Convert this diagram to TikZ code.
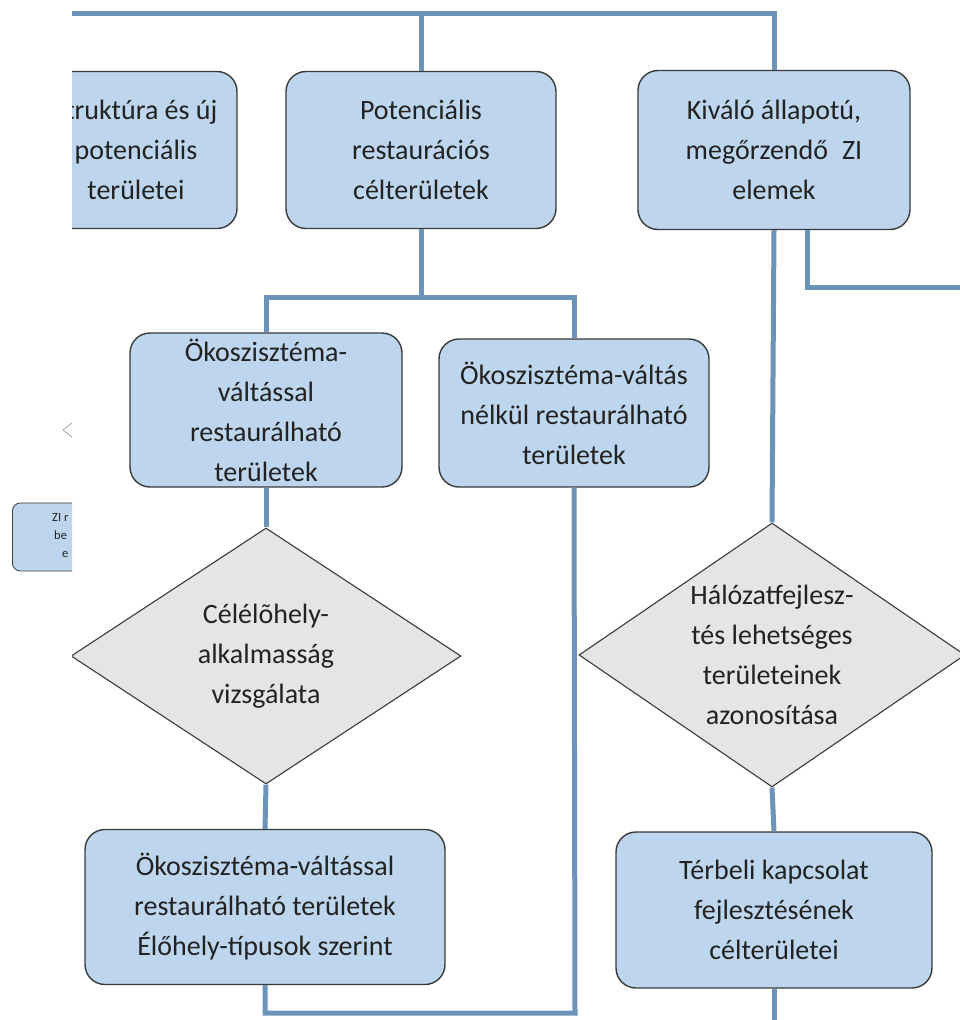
\documentclass[tikz,border=0pt]{standalone}
\usepackage{fontspec}
\setmainfont{Carlito}
\usetikzlibrary{shapes.geometric}
\definecolor{linkblue}{RGB}{108,147,186}
\definecolor{boxblue}{RGB}{189,214,237}
\definecolor{decgray}{RGB}{229,229,229}
\definecolor{edgegray}{RGB}{58,58,58}
\definecolor{inkgray}{RGB}{34,34,34}
\newcommand{\boxfont}{\fontsize{28}{40}\selectfont}
\newcommand{\tinyfont}{\fontsize{12.5}{18}\selectfont}

\begin{document}
\begin{tikzpicture}[x=1pt, y=-1pt,
        link/.style = {line width=5pt, draw=linkblue},
        box/.style = {draw=edgegray, line width=1.4pt, fill=boxblue, rounded corners=20pt,
            minimum width=270pt, minimum height=157pt, align=center, font=\boxfont, text=inkgray, inner sep=2pt},
        decision/.style = {diamond, draw=edgegray, line width=1.1pt, fill=decgray,
            minimum width=390pt, minimum height=256pt, inner sep=0pt},
        dtext/.style = {align=center, font=\boxfont, text=inkgray}]
        \useasboundingbox (0,0) rectangle (960,1020);
        \fill[white] (0,0) rectangle (960,1020);
        \begin{scope}
            \clip (72,0) rectangle (960,1020);
            \node[box, minimum width=202pt] (infra) at (136,150) {struktúra és új\\potenciális\\területei};
            \node[box] (poten) at (421,150) {Potenciális\\restaurációs\\célterületek};
            \node[box, minimum width=272pt, minimum height=159pt] (kival) at (774,150) {Kiváló állapotú,\\megőrzendő\enspace ZI\\elemek};
            \node[box, minimum width=272pt, minimum height=154pt] (ecoA) at (266,410) {Ökoszisztéma-\\váltással\\restaurálható\\területek};
            \node[box, minimum height=148pt] (ecoB) at (574,413) {Ökoszisztéma-váltás\\nélkül restaurálható\\területek};
            \node[decision, label={[dtext]center:Célélõhely-\\alkalmasság\\vizsgálata}] (check) at (266,656) {};
            \node[decision, minimum width=386pt, minimum height=264pt, label={[dtext]center:Hálózatfejlesz-\\tés lehetséges\\területeinek\\azonosítása}] (net) at (772,655) {};
            \node[box, minimum width=360pt, minimum height=155pt] (habitat) at (265,907) {Ökoszisztéma-váltással\\restaurálható területek\\Élőhely-típusok szerint};
            \node[box, minimum width=316pt, minimum height=156pt] (spatial) at (774,910) {Térbeli kapcsolat\\fejlesztésének\\célterületei};
            \coordinate (topleft) at (60,13);
            \coordinate (rightend) at (970,287);
            \coordinate (loop) at (575,1013);
            \coordinate (bottomend) at (774,1030);
            \draw[link] (topleft) -| (kival.north);
            \draw[link] (poten.north) -- (421,13);
            \draw[link] (poten.south) -- ++(0,68) coordinate (split);
            \draw[link] (split) -| (ecoA.north);
            \draw[link] (split) -| (ecoB.north);
            \draw[link] (ecoA.south) -- (check.north);
            \draw[link] (check.south) -- (habitat.north);
            \draw[link] (habitat.south) |- (loop) -- (ecoB.south);
            \draw[link] (kival.south) -- (net.north);
            \draw[link] ([xshift=33pt]kival.south) |- (rightend);
            \draw[link] (net.south) -- (spatial.north);
            \draw[link] (spatial.south) -- (bottomend);
        \end{scope}
        \begin{scope}
            \clip (0,0) rectangle (72,1020);
            \node[draw=edgegray, line width=0.8pt, fill=boxblue, rounded corners=8pt, minimum width=120pt,
                minimum height=68pt, anchor=west] (zinote) at (12,537) {};
            \node[font=\tinyfont, text=inkgray, align=left, anchor=north west, inner sep=0pt] (zitext) at (52,513) {ZI r\\\hspace{2pt}be\\\hspace{10pt}e};
            \draw[gray!70, line width=0.8pt] (72,423) -- (63,430) -- (72,437);
        \end{scope}
\end{tikzpicture}
\end{document}
